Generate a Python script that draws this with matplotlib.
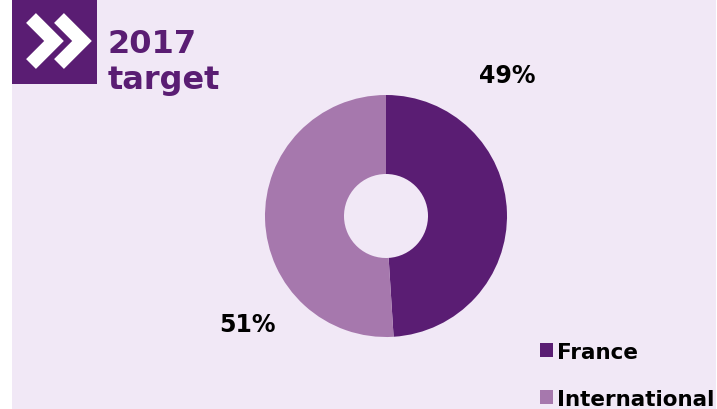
import matplotlib.pyplot as plt
from matplotlib.patches import Rectangle

labels = ["France", "International"]
shares = [49, 51]
colors = ["#5A1D73", "#A678AD"]
pct_labels = ["49%", "51%"]

W, H = 717, 410
fig = plt.figure(figsize=(W / 100, H / 100), dpi=100, facecolor="white")

# lavender panel (white strip on the left)
fig.patches.append(Rectangle((12 / W, 0), (W - 13) / W, 1, transform=fig.transFigure,
                             facecolor="#F1E8F6", edgecolor="none", zorder=-5))

# icon box with double chevron
icon = fig.add_axes([12 / W, 1 - 85 / H, 85 / W, 85 / H])
icon.set_facecolor("#5A1D73")
icon.set_xlim(0, 85)
icon.set_ylim(85, 0)
icon.set_xticks([])
icon.set_yticks([])
for s in icon.spines.values():
    s.set_visible(False)
for dx in (0, 28):
    icon.plot([19 + dx, 42 + dx, 19 + dx], [19, 42, 65], color="white", lw=10,
              solid_joinstyle="miter", solid_capstyle="butt")

fig.text(108 / W, 1 - 53 / H, "2017", color="#5A1D73", fontsize=23, fontweight="bold",
         ha="left", va="baseline")
fig.text(108 / W, 1 - 89 / H, "target", color="#5A1D73", fontsize=23, fontweight="bold",
         ha="left", va="baseline")

# donut
cx, cy, r = 386, 217, 121
ax = fig.add_axes([(cx - r) / W, 1 - (cy + r) / H, 2 * r / W, 2 * r / H])
ax.set_facecolor("none")
wedges, _ = ax.pie(shares, colors=colors, startangle=90, counterclock=False,
                   radius=1, wedgeprops=dict(width=(r - 42) / r, edgecolor="none"))
ax.set_xlim(-1, 1)
ax.set_ylim(-1, 1)
ax.set_aspect("equal")
ax.axis("off")

fig.text(507 / W, 1 - 76 / H, pct_labels[0], fontsize=17, fontweight="bold",
         ha="center", va="center")
fig.text(247 / W, 1 - 325 / H, pct_labels[1], fontsize=17, fontweight="bold",
         ha="center", va="center")

fig.legend(wedges, labels, loc="upper left", bbox_to_anchor=(531 / W, 1 - 334 / H),
           frameon=False, prop=dict(size=15.5, weight="bold"), handlelength=0.6,
           handleheight=0.6, handletextpad=0.2, labelspacing=1.25, borderaxespad=0)

fig.savefig("out.png", dpi=100, facecolor=fig.get_facecolor())
